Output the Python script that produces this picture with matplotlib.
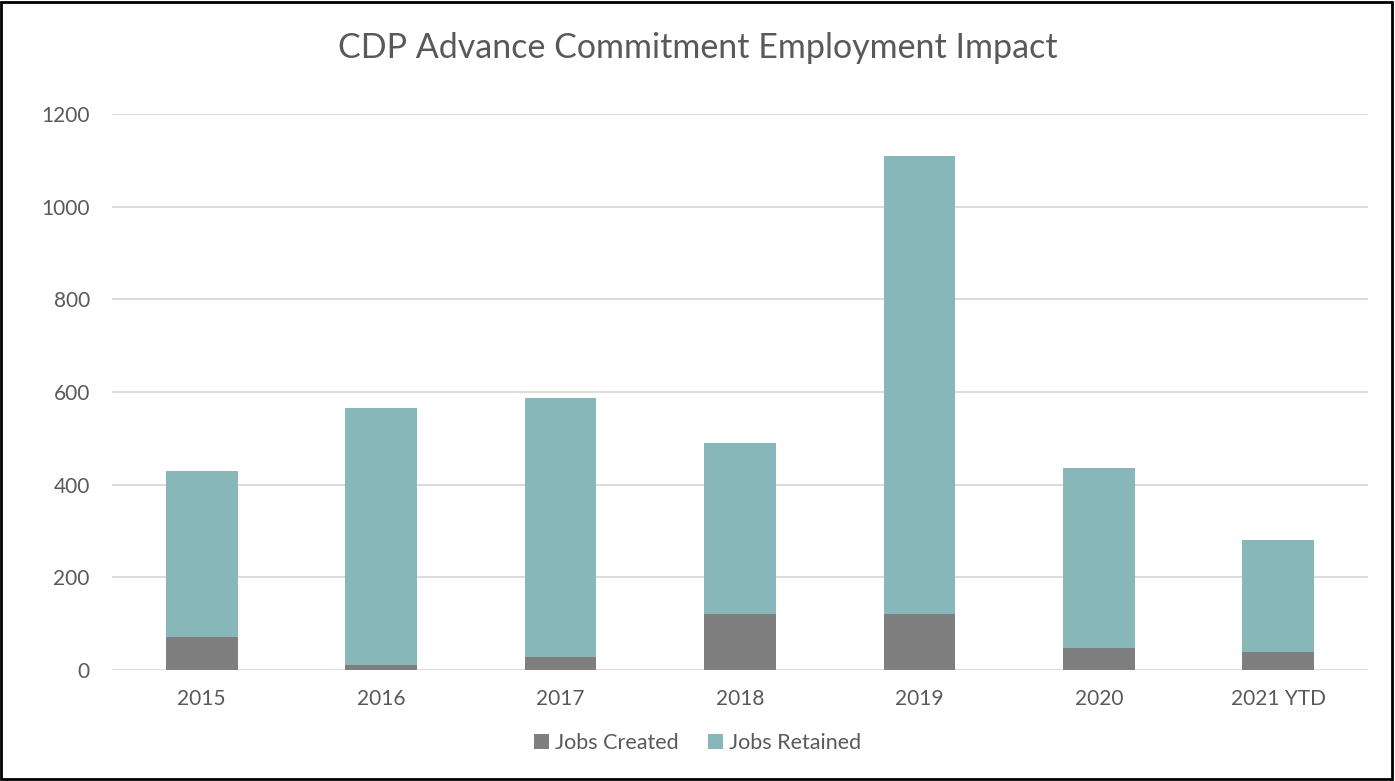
import numpy as np
import matplotlib.pyplot as plt
from matplotlib.patches import Rectangle

plt.rcParams['font.family'] = ['Lato', 'DejaVu Sans']

years = ['2015', '2016', '2017', '2018', '2019', '2020', '2021 YTD']
jobs_created = [72, 10, 27, 121, 120, 48, 39]
jobs_retained = [357, 555, 559, 368, 990, 389, 242]

text_color = '#595959'
c_created = '#7F7F7F'
c_retained = '#87B7B8'

fig = plt.figure(figsize=(13.95, 7.81), dpi=100)
ax = fig.add_axes([112 / 1395, 1 - 670 / 781, 1256 / 1395, 556 / 781])

x = np.arange(len(years))
ax.bar(x, jobs_created, width=0.4, color=c_created, label='Jobs Created', zorder=3)
ax.bar(x, jobs_retained, width=0.4, bottom=jobs_created, color=c_retained,
       label='Jobs Retained', zorder=3)

ax.set_xlim(-0.5, len(years) - 0.5)
ax.set_ylim(0, 1200)
ax.set_yticks(np.arange(0, 1201, 200))
ax.set_xticks(x)
ax.set_xticklabels(years)
ax.yaxis.grid(True, color='#D9D9D9', linewidth=1.3, zorder=0)
ax.set_axisbelow(True)
for s in ax.spines.values():
    s.set_visible(False)
ax.tick_params(length=0, labelsize=15, colors=text_color)
ax.tick_params(axis='x', pad=14)
ax.tick_params(axis='y', pad=16)

fig.text(0.5, 1 - 48 / 781, 'CDP Advance Commitment Employment Impact',
         ha='center', va='center', fontsize=24.5, color=text_color)

leg = fig.legend(loc='center', bbox_to_anchor=(0.5, 1 - 743 / 781), ncol=2,
                 frameon=False, fontsize=15.5, handlelength=0.7, handleheight=0.7,
                 handletextpad=0.25, columnspacing=1.4)
for t in leg.get_texts():
    t.set_color(text_color)

# outer frame
fig.patches.append(Rectangle((0.001, 0.002), 0.997, 0.995, transform=fig.transFigure,
                             fill=False, edgecolor='black', linewidth=2))

fig.savefig('out.png', dpi=100)
